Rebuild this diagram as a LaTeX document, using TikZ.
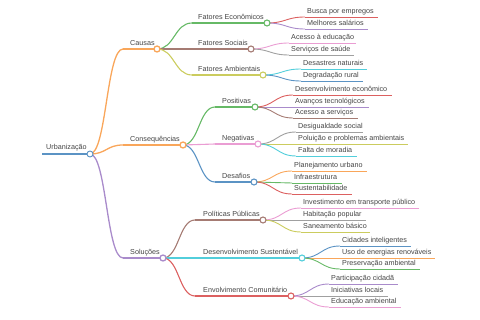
\documentclass[tikz,border=0pt]{standalone}
\usepackage{fontspec}
\setmainfont{Liberation Sans}
\usetikzlibrary{calc}
\definecolor{cblue}{HTML}{5B93C4}
\definecolor{corange}{HTML}{F9A65A}
\definecolor{cgreen}{HTML}{66B966}
\definecolor{cred}{HTML}{DC6060}
\definecolor{cpurple}{HTML}{A98BCB}
\definecolor{cbrown}{HTML}{A57B73}
\definecolor{cpink}{HTML}{EA9DD3}
\definecolor{cgray}{HTML}{A0A0A0}
\definecolor{colive}{HTML}{CBCC5E}
\definecolor{ccyan}{HTML}{52CEDB}
\definecolor{tcol}{HTML}{444444}
\pgfdeclarelayer{bg}
\pgfsetlayers{bg,main}
\newcommand\mmlink[3]{\draw[#3] let \p1=(#1), \p2=(#2) in (\p1) .. controls ({(\x1+\x2)/2},\y1) and ({(\x1+\x2)/2},\y2) .. (\p2);}
% branch: name, parent, x0, cx, y, style, textx, text
\newcommand\mmbr[8]{%
  \coordinate (#1-s) at (#3,#5);
  \begin{pgfonlayer}{bg}
    \mmlink{#2-c}{#1-s}{#6}
    \draw[#6] (#1-s) -- (#4,#5);
  \end{pgfonlayer}
  \node[lbl] (#1-t) at (#7,#5-3) {#8};
  \node[dot, draw=#6] (#1-c) at (#4,#5) {};
}
% leaf: name, parent, x0, x1, y, style, text
\newcommand\mmleaf[7]{%
  \coordinate (#1-s) at (#3,#5);
  \coordinate (#1-e) at (#4,#5);
  \begin{pgfonlayer}{bg}
    \mmlink{#2-c}{#1-s}{#6}
    \draw[#6] (#1-s) -- (#1-e);
  \end{pgfonlayer}
  \node[lbl] (#1-t) at (#3+2,#5-3) {#7};
}
\begin{document}
\begin{tikzpicture}[x=1pt,y=-1pt,
  lbl/.style={anchor=base west, inner sep=0pt, font=\fontsize{7.2}{8}\selectfont, text=tcol},
  dot/.style={circle, fill=white, minimum size=6pt, inner sep=0pt, line width=0.9pt},
  wa/.style={line width=1.3pt},
  wb/.style={line width=1.1pt},
  wc/.style={line width=0.9pt}]
\useasboundingbox (0,0) rectangle (480,320);
% root
\coordinate (root-s) at (42,154);
\draw[cblue, line width=2.4pt] (root-s) -- (90,154);
\node[lbl] (root-t) at (46,154-4) {Urbanização};
\node[dot, draw=cblue] (root-c) at (90,154) {};
% level 1
\mmbr{cau}{root}{123}{157}{49}{corange,wa}{130}{Causas}
\mmbr{con}{root}{123}{183}{145}{corange,wa}{130}{Consequências}
\mmbr{sol}{root}{123}{163}{258}{cpurple,wa}{130}{Soluções}
% level 2
\mmbr{fe}{cau}{192}{267}{23}{cgreen,wb}{198}{Fatores Econômicos}
\mmbr{fs}{cau}{192}{251}{49}{cbrown,wb}{198}{Fatores Sociais}
\mmbr{fa}{cau}{192}{263}{75}{colive,wb}{198}{Fatores Ambientais}
\mmbr{pos}{con}{215}{255}{107}{cgreen,wb}{222}{Positivas}
\mmbr{neg}{con}{215}{258}{144}{cpink,wb}{222}{Negativas}
\mmbr{des}{con}{215}{254}{182}{cblue,wb}{222}{Desafios}
\mmbr{pp}{sol}{195}{263}{220}{cbrown,wb}{203}{Políticas Públicas}
\mmbr{ds}{sol}{195}{302}{258}{ccyan,wb}{203}{Desenvolvimento Sustentável}
\mmbr{ec}{sol}{195}{291}{296}{cred,wb}{203}{Envolvimento Comunitário}
% leaves
\mmleaf{l1}{fe}{305}{378}{17}{cred,wc}{Busca por empregos}
\mmleaf{l2}{fe}{305}{368}{29}{cpurple,wc}{Melhores salários}
\mmleaf{l3}{fs}{289}{356}{43}{cpink,wc}{Acesso à educação}
\mmleaf{l4}{fs}{289}{354}{55}{cgray,wc}{Serviços de saúde}
\mmleaf{l5}{fa}{301}{367}{69}{ccyan,wc}{Desastres naturais}
\mmleaf{l6}{fa}{301}{363}{81}{cblue,wc}{Degradação rural}
\mmleaf{l7}{pos}{293}{392}{95}{cred,wc}{Desenvolvimento econômico}
\mmleaf{l8}{pos}{293}{369}{107}{cpurple,wc}{Avanços tecnológicos}
\mmleaf{l9}{pos}{293}{358}{118}{cbrown,wc}{Acesso a serviços}
\mmleaf{l10}{neg}{296}{363}{132}{cgray,wc}{Desigualdade social}
\mmleaf{l11}{neg}{296}{408}{144}{colive,wc}{Poluição e problemas ambientais}
\mmleaf{l12}{neg}{296}{357}{156}{ccyan,wc}{Falta de moradia}
\mmleaf{l13}{des}{292}{367}{171}{corange,wc}{Planejamento urbano}
\mmleaf{l14}{des}{292}{342}{183}{cgreen,wc}{Infraestrutura}
\mmleaf{l15}{des}{292}{352}{194}{cred,wc}{Sustentabilidade}
\mmleaf{l16}{pp}{301}{419}{208}{cpink,wc}{Investimento em transporte público}
\mmleaf{l17}{pp}{301}{366}{220}{cgray,wc}{Habitação popular}
\mmleaf{l18}{pp}{301}{370}{232}{colive,wc}{Saneamento básico}
\mmleaf{l19}{ds}{340}{411}{246}{cblue,wc}{Cidades inteligentes}
\mmleaf{l20}{ds}{340}{435}{258}{corange,wc}{Uso de energias renováveis}
\mmleaf{l21}{ds}{340}{420}{269}{cgreen,wc}{Preservação ambiental}
\mmleaf{l22}{ec}{329}{398}{284}{cpurple,wc}{Participação cidadã}
\mmleaf{l23}{ec}{329}{388}{296}{cgray,wc}{Iniciativas locais}
\mmleaf{l24}{ec}{329}{401}{307}{cpink,wc}{Educação ambiental}
\end{tikzpicture}
\end{document}
